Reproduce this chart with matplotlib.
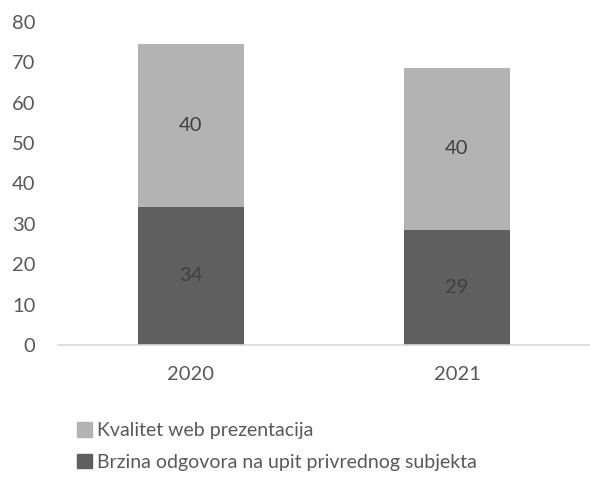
import matplotlib.pyplot as plt
from matplotlib.patches import Patch

plt.rcParams['font.family'] = ['Lato', 'DejaVu Sans']

# --- DATA ---
years = ['2020', '2021']
brzina = [34.2, 28.6]      # Brzina odgovora na upit privrednog subjekta
kvalitet = [40.3, 40.0]    # Kvalitet web prezentacija

LABEL_BRZINA = 'Brzina odgovora na upit privrednog subjekta'
LABEL_KVALITET = 'Kvalitet web prezentacija'

DARK = '#5f5f5f'
LIGHT = '#b3b3b3'
TXT = '#595959'
FS = 14.5

fig = plt.figure(figsize=(5.9, 4.86), dpi=100)
ax = fig.add_axes([0.098, 0.29, 0.902, 0.665])

x = range(len(years))
b1 = ax.bar(x, brzina, width=0.4, color=DARK, label=LABEL_BRZINA)
b2 = ax.bar(x, kvalitet, width=0.4, bottom=brzina, color=LIGHT, label=LABEL_KVALITET)

ax.bar_label(b1, labels=[f'{v:.0f}' for v in brzina], label_type='center',
             fontsize=FS, color='#404040')
ax.bar_label(b2, labels=[f'{v:.0f}' for v in kvalitet], label_type='center',
             fontsize=FS, color='#404040')

ax.set_xlim(-0.5, 1.5)
ax.set_ylim(0, 80)
ax.set_yticks(range(0, 81, 10))
ax.set_xticks(list(x))
ax.set_xticklabels(years)

for s in ['top', 'right', 'left']:
    ax.spines[s].set_visible(False)
ax.spines['bottom'].set_color('#d9d9d9')
ax.spines['bottom'].set_linewidth(1.2)
ax.tick_params(axis='both', length=0, labelsize=FS, colors=TXT)
ax.tick_params(axis='y', pad=16)
ax.tick_params(axis='x', pad=15)

handles = [Patch(color=LIGHT, label=LABEL_KVALITET),
           Patch(color=DARK, label=LABEL_BRZINA)]
fig.legend(handles=handles, loc='upper left', bbox_to_anchor=(0.118, 0.147),
           frameon=False, fontsize=14, labelcolor=TXT,
           handlelength=0.75, handleheight=0.75, handletextpad=0.25,
           labelspacing=0.75, borderaxespad=0)

fig.savefig('out.png', dpi=100)
